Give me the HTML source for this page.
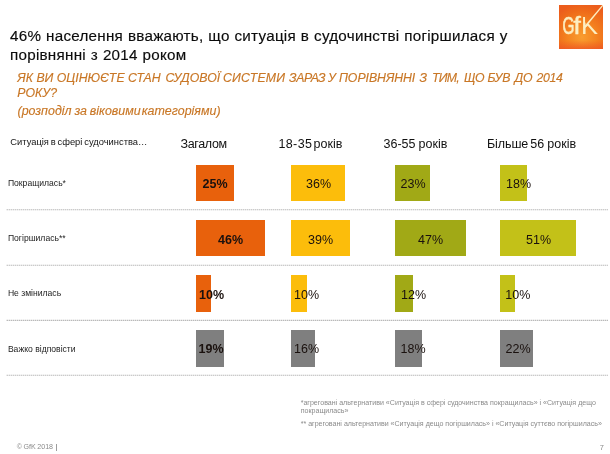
<!DOCTYPE html>
<html lang="uk">
<head>
<meta charset="utf-8">
<title>GfK</title>
<style>
html,body{margin:0;padding:0;}
body{width:610px;height:454px;background:#fff;position:relative;overflow:hidden;font-family:"Liberation Sans",sans-serif;color:#1a1a1a;}
.abs{position:absolute;white-space:nowrap;line-height:1;}
.title{left:10px;top:26.8px;font-size:15.2px;line-height:18.5px;word-spacing:0.4px;letter-spacing:0.26px;color:#0c0c0c;-webkit-text-stroke:0.15px #0c0c0c;}
.sub{left:17.3px;font-size:12.3px;font-style:italic;color:#c97726;word-spacing:0px;-webkit-text-stroke:0.15px #c97726;}
.hdr{font-size:12.5px;color:#111;top:138.3px;}
.lbl{left:7.9px;font-size:8.6px;color:#1c1c1c;transform:scaleY(1.12);transform-origin:0 100%;}
.bar{position:absolute;height:36.7px;}
.c1{background:#e8610c;}
.c2{background:#fcbd0b;}
.c3{background:#a1a916;}
.c4{background:#c3c118;}
.g{background:#7f7f7f;}
.v{font-size:12.5px;color:#1a110e;}
.vb{font-weight:bold;}
.fn{font-size:7.07px;color:#8a8a8a;left:300.7px;}
.ft{font-size:6.6px;color:#8a8a8a;}
</style>
</head>
<body>
<div class="abs title" id="t1">46% населення вважають, що ситуація в судочинстві погіршилася у</div>
<div class="abs title" id="t2" style="top:45.8px">порівнянні з 2014 роком</div>

<div class="sub" id="s1" style="position:absolute;left:0;top:72.2px;width:600px;height:14px;line-height:1;white-space:nowrap"><span id="w0" style="position:absolute;left:17.3px;top:0">ЯК</span> <span id="w1" style="position:absolute;left:36.4px;top:0">ВИ</span> <span id="w2" style="position:absolute;left:56.8px;top:0">ОЦІНЮЄТЕ</span> <span id="w3" style="position:absolute;left:128.0px;top:0">СТАН</span> <span id="w4" style="position:absolute;left:165.4px;top:0">СУДОВОЇ</span> <span id="w5" style="position:absolute;left:223.0px;top:0;letter-spacing:0.20px">СИСТЕМИ</span> <span id="w6" style="position:absolute;left:289.0px;top:0;letter-spacing:-0.40px">ЗАРАЗ</span> <span id="w7" style="position:absolute;left:327.9px;top:0">У</span> <span id="w8" style="position:absolute;left:339.0px;top:0;letter-spacing:-0.05px">ПОРІВНЯННІ</span> <span id="w9" style="position:absolute;left:419.6px;top:0">З</span> <span id="w10" style="position:absolute;left:431.9px;top:0;letter-spacing:-0.70px">ТИМ,</span> <span id="w11" style="position:absolute;left:464.1px;top:0;letter-spacing:-0.50px">ЩО</span> <span id="w12" style="position:absolute;left:487.4px;top:0;letter-spacing:-0.13px">БУВ</span> <span id="w13" style="position:absolute;left:514.6px;top:0;letter-spacing:-0.20px">ДО</span> <span id="w14" style="position:absolute;left:536.5px;top:0;letter-spacing:-0.30px">2014</span> </div>
<div class="abs sub" id="s2" style="top:86.5px">РОКУ?</div>
<div class="abs sub" id="s3" style="top:105.1px;left:17.5px;font-size:12.45px;word-spacing:-0.6px">(розподіл за віковими<span style="word-spacing:-2.5px"> </span>категоріями)</div>

<div class="abs" id="h0" style="left:10.3px;top:137.8px;font-size:9.35px;word-spacing:-0.75px;color:#151515">Ситуація в сфері судочинства…</div>
<div class="abs hdr" id="h1" style="left:180.5px;letter-spacing:-.35px">Загалом</div>
<div class="abs hdr" id="h2" style="left:278.4px;letter-spacing:.4px">18-35</div> <div class="abs hdr" id="h2b" style="left:313.6px">років</div>
<div class="abs hdr" id="h3" style="left:383.5px">36-55</div> <div class="abs hdr" id="h3b" style="left:418.6px">років</div>
<div class="abs hdr" id="h4" style="left:487px;letter-spacing:-.1px">Більше</div> <div class="abs hdr" id="h4b" style="left:530.2px">56</div> <div class="abs hdr" id="h4c" style="left:547.3px">років</div>

<div class="abs lbl" id="l1" style="top:178.5px">Покращилась*</div>
<div class="abs lbl" id="l2" style="top:233.7px">Погіршилась**</div>
<div class="abs lbl" id="l3" style="top:289.3px">Не змінилась</div>
<div class="abs lbl" id="l4" style="top:344.5px">Важко відповісти</div>


<svg style="position:absolute;left:0;top:0" width="610" height="454" viewBox="0 0 610 454">
<g stroke="#9c9c9c" stroke-width="1.1" stroke-dasharray="1 1" fill="none">
<line x1="6.7" y1="209.8" x2="608" y2="209.8"/>
<line x1="6.7" y1="265.3" x2="608" y2="265.3"/>
<line x1="6.7" y1="320.35" x2="608" y2="320.35"/>
<line x1="6.7" y1="375.3" x2="608" y2="375.3"/>
</g>
</svg>
<!-- row 1 -->
<div class="bar c1" style="left:196px;top:164.8px;width:37.6px"></div>
<div class="bar c2" style="left:291.4px;top:164.8px;width:54px"></div>
<div class="bar c3" style="left:395px;top:164.8px;width:35px"></div>
<div class="bar c4" style="left:500px;top:164.8px;width:27px"></div>
<!-- row 2 -->
<div class="bar c1 r2" style="left:196px;top:220.3px;width:68.6px;height:35.4px"></div>
<div class="bar c2" style="left:291.4px;top:220.3px;width:59px;height:35.4px"></div>
<div class="bar c3" style="left:395px;top:220.3px;width:71px;height:35.4px"></div>
<div class="bar c4" style="left:500px;top:220.3px;width:76px;height:35.4px"></div>
<!-- row 3 -->
<div class="bar c1" style="left:196px;top:274.9px;width:15px"></div>
<div class="bar c2" style="left:291.4px;top:274.9px;width:16px"></div>
<div class="bar c3" style="left:395px;top:274.9px;width:18px"></div>
<div class="bar c4" style="left:500px;top:274.9px;width:15px"></div>
<!-- row 4 -->
<div class="bar g" style="left:196px;top:329.9px;width:28px"></div>
<div class="bar g" style="left:291.4px;top:329.9px;width:24px"></div>
<div class="bar g" style="left:395px;top:329.9px;width:27px"></div>
<div class="bar g" style="left:500px;top:329.9px;width:33px"></div>

<!-- values -->
<div class="abs v vb" style="left:202.5px;top:177.8px">25%</div>
<div class="abs v" style="left:306px;top:177.8px">36%</div>
<div class="abs v" style="left:400.5px;top:177.8px">23%</div>
<div class="abs v" style="left:506px;top:177.8px">18%</div>

<div class="abs v vb" style="left:218px;top:233.7px">46%</div>
<div class="abs v" style="left:308px;top:233.7px">39%</div>
<div class="abs v" style="left:418px;top:233.7px">47%</div>
<div class="abs v" style="left:526px;top:233.7px">51%</div>

<div class="abs v vb" style="left:199px;top:288.7px">10%</div>
<div class="abs v" style="left:294px;top:288.7px">10%</div>
<div class="abs v" style="left:401px;top:288.7px">12%</div>
<div class="abs v" style="left:505.3px;top:288.7px">10%</div>

<div class="abs v vb" style="left:198.5px;top:343.3px">19%</div>
<div class="abs v" style="left:294px;top:343.3px">16%</div>
<div class="abs v" style="left:400.5px;top:343.3px">18%</div>
<div class="abs v" style="left:505.6px;top:343.3px">22%</div>

<div class="abs fn" id="f1" style="top:398.5px">*агреговані альтернативи «Ситуація в сфері судочинства покращилась» і «Ситуація дещо</div>
<div class="abs fn" id="f2" style="top:407.3px">покращилась»</div>
<div class="abs fn" id="f3" style="top:420.4px">** агреговані альтернативи «Ситуація дещо погіршилась» і «Ситуація суттєво погіршилась»</div>

<div class="abs ft" id="cp" style="left:16.7px;top:444.2px;font-size:7.1px;word-spacing:-.4px">© GfK 2018 <span style="color:#555;margin-left:1px">|</span></div>
<div class="abs ft" id="pn" style="left:599.8px;top:444px;font-size:7.4px">7</div>

<!-- logo -->
<svg id="lg" style="position:absolute;left:559px;top:4.7px" width="44" height="44.5" viewBox="0 0 44 44.5">
<defs>
<radialGradient id="lgr" cx="0.52" cy="0.72" r="0.75">
<stop offset="0" stop-color="#f99d30"/>
<stop offset="0.45" stop-color="#f4831f"/>
<stop offset="0.8" stop-color="#ee6a1a"/>
<stop offset="1" stop-color="#ec5d1c"/>
</radialGradient>
<linearGradient id="lgb" x1="0" y1="0" x2="0" y2="1">
<stop offset="0.8" stop-color="#ee5520" stop-opacity="0"/>
<stop offset="1" stop-color="#ee5226" stop-opacity="0.75"/>
</linearGradient>
</defs>
<rect width="44" height="44.5" fill="url(#lgr)"/>
<rect width="44" height="44.5" fill="url(#lgb)"/>
<clipPath id="kc"><path d="M20 0 H26.1 V17.5 L44 25 V44 H20 Z"/></clipPath>
<g fill="#fdeec0" stroke="#fdeec0" stroke-linejoin="round" font-family="'Liberation Sans',sans-serif" font-size="24.6">
<text transform="translate(3.6,29.3) scale(0.62,1)" stroke-width="0.7">G</text>
<text transform="translate(14.3,29.3) scale(1.12,1)" stroke-width="0.35">f</text>
<g clip-path="url(#kc)"><text transform="translate(21.9,29.3) scale(1.04,1)" stroke-width="0">K</text></g>
</g>
<path d="M25.9 23.2 L25.9 20.6 L43.3 0 L44 0 L44 0.9 Z" fill="#fdeec0"/>
</svg>
</body>
</html>
